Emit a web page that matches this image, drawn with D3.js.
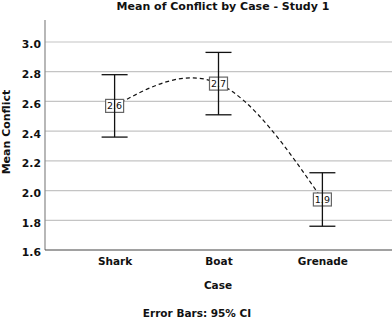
<!DOCTYPE html>
<html><head><meta charset="utf-8">
<script src="https://cdn.jsdelivr.net/npm/d3@7"></script>
<style>body{margin:0;background:#fff}svg{display:block}text{font-family:"DejaVu Sans",sans-serif}</style>
</head><body><svg id="c" width="392" height="323"></svg>
<script>
const categories = ["Shark", "Boat", "Grenade"];
const means = [2.57, 2.72, 1.94];
const ciLow = [2.36, 2.51, 1.76];
const ciHigh = [2.78, 2.93, 2.12];
const meanLabels = ["2.6", "2.7", "1.9"];
const yTicks = [1.6, 1.8, 2.0, 2.2, 2.4, 2.6, 2.8, 3.0];

(function () {
const svg = d3.select("#c");
const pLeft = 45, pRight = 392, pBottom = 250, pTop = 20;
const x = d3.scalePoint().domain(categories).range([pLeft, pRight]).padding(0.67);
const y = d3.scaleLinear().domain([1.6, 3.0]).range([pBottom, 42]);

// gridlines
svg.append("g").selectAll("line").data(yTicks.filter(d => d > 1.6)).join("line")
  .attr("x1", pLeft).attr("x2", pRight).attr("y1", d => y(d)).attr("y2", d => y(d))
  .attr("stroke", "#c4c4c4").attr("stroke-width", 1.2);

// y axis
const yAxis = svg.append("g").attr("transform", `translate(${pLeft},0)`)
  .call(d3.axisLeft(y).tickValues(yTicks).tickFormat(d3.format(".1f")).tickSize(0).tickPadding(4));
yAxis.select(".domain").remove();
yAxis.selectAll("text").attr("font-size", "10.8px").attr("font-weight", "bold").attr("fill", "#111")
  .attr("dy", "0.55em").attr("font-family", '"DejaVu Sans",sans-serif');
svg.append("line").attr("x1", pLeft).attr("x2", pLeft).attr("y1", pTop).attr("y2", pBottom)
  .attr("stroke", "#888").attr("stroke-width", 1.2);

// x axis
const xAxis = svg.append("g").attr("transform", `translate(0,${pBottom})`)
  .call(d3.axisBottom(x).tickSize(0).tickPadding(8));
xAxis.select(".domain").attr("stroke", "#444").attr("stroke-width", 1.2).attr("d", `M${pLeft},0H${pRight}`);
xAxis.selectAll("text").attr("font-size", "10.5px").attr("font-weight", "bold").attr("fill", "#111")
  .attr("font-family", '"DejaVu Sans",sans-serif');

// dashed spline
const pts = categories.map((c, i) => [x(c), y(means[i])]);
svg.append("path").attr("d", d3.line().curve(d3.curveNatural)(pts))
  .attr("fill", "none").attr("stroke", "#111").attr("stroke-width", 1.2).attr("stroke-dasharray", "4,3");

// mean label boxes and error bars
const g = svg.append("g").selectAll("g").data(categories).join("g");
g.append("rect").attr("x", d => x(d) - 9).attr("y", (d, i) => y(means[i]) - 6.5)
  .attr("width", 18).attr("height", 13).attr("fill", "#fff").attr("stroke", "#666").attr("stroke-width", 1.2);
g.append("text").attr("x", d => x(d)).attr("y", (d, i) => y(means[i]) + 3.5)
  .attr("text-anchor", "middle").attr("font-size", "9.5px").attr("fill", "#111").text((d, i) => meanLabels[i]);
g.append("line").attr("x1", d => x(d)).attr("x2", d => x(d))
  .attr("y1", (d, i) => y(ciLow[i])).attr("y2", (d, i) => y(ciHigh[i])).attr("stroke", "#111").attr("stroke-width", 1.3);
g.append("line").attr("x1", d => x(d) - 13).attr("x2", d => x(d) + 13)
  .attr("y1", (d, i) => y(ciLow[i])).attr("y2", (d, i) => y(ciLow[i])).attr("stroke", "#111").attr("stroke-width", 1.3);
g.append("line").attr("x1", d => x(d) - 13).attr("x2", d => x(d) + 13)
  .attr("y1", (d, i) => y(ciHigh[i])).attr("y2", (d, i) => y(ciHigh[i])).attr("stroke", "#111").attr("stroke-width", 1.3);

// titles
svg.append("text").attr("x", 223).attr("y", 10).attr("text-anchor", "middle")
  .attr("font-size", "11px").attr("font-weight", "bold").attr("fill", "#111").text("Mean of Conflict by Case - Study 1");
svg.append("text").attr("x", 218).attr("y", 289).attr("text-anchor", "middle")
  .attr("font-size", "10.5px").attr("font-weight", "bold").attr("fill", "#111").text("Case");
svg.append("text").attr("x", 197).attr("y", 317).attr("text-anchor", "middle")
  .attr("font-size", "10.5px").attr("font-weight", "bold").attr("fill", "#111").text("Error Bars: 95% CI");
svg.append("text").attr("transform", "translate(10,132) rotate(-90)").attr("text-anchor", "middle")
  .attr("font-size", "11px").attr("font-weight", "bold").attr("fill", "#111").text("Mean Conflict");
})();
</script></body></html>
